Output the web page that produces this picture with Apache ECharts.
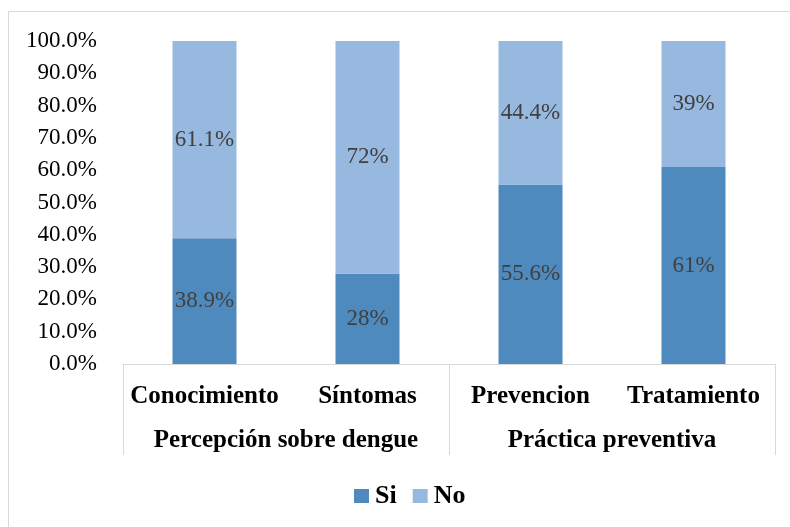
<!DOCTYPE html>
<html><head><meta charset="utf-8">
<script src="https://cdn.jsdelivr.net/npm/echarts@6/dist/echarts.min.js"></script>
<style>html,body{margin:0;padding:0;background:#fff}#c{width:790px;height:527px}</style>
</head><body><div id="c"></div>
<script>
const categories = ['Conocimiento', 'Síntomas', 'Prevencion', 'Tratamiento'];
const groups = ['Percepción sobre dengue', 'Práctica preventiva'];
const siValues = [38.9, 28, 55.6, 61];
const noValues = [61.1, 72, 44.4, 39];
const yTicks = [0, 10, 20, 30, 40, 50, 60, 70, 80, 90, 100];

const serif = '"Liberation Serif", "DejaVu Serif", serif';
const chart = echarts.init(document.getElementById('c'));
chart.setOption({
  animation: false,
  backgroundColor: '#fff',
  graphic: [{
    type: 'rect', shape: {x: 8.5, y: 11.5, width: 820, height: 600},
    style: {fill: 'none', stroke: '#d9d9d9', lineWidth: 1}, silent: true, z: -1
  }],
  grid: {left: 123, right: 15, top: 41, bottom: 163, containLabel: false},
  legend: {
    data: ['Si', 'No'], left: 349, top: 478,
    itemWidth: 15, itemHeight: 14, itemGap: 16, icon: 'rect',
    textStyle: {fontFamily: serif, fontWeight: 'bold', fontSize: 26, color: '#000', padding: [0, 0, 0, 1]}
  },
  xAxis: [{
    type: 'category', data: categories, position: 'bottom',
    axisLine: {show: true, lineStyle: {color: '#d9d9d9', width: 1}},
    axisTick: {show: false},
    axisLabel: {margin: 20, fontFamily: serif, fontWeight: 'bold', fontSize: 25, color: '#000', interval: 0}
  }, {
    type: 'category', data: groups, position: 'bottom',
    axisLine: {show: false},
    axisTick: {show: true, length: 91, lineStyle: {color: '#d9d9d9', width: 1}},
    axisLabel: {margin: 64, fontFamily: serif, fontWeight: 'bold', fontSize: 25, color: '#000', interval: 0}
  }],
  yAxis: {
    type: 'value', min: 0, max: 100, interval: 10,
    axisLine: {show: false}, axisTick: {show: false}, splitLine: {show: false},
    axisLabel: {margin: 26, fontFamily: serif, fontSize: 23, color: '#000',
      formatter: v => yTicks.includes(v) ? v.toFixed(1) + '%' : ''}
  },
  series: [{
    name: 'Si', type: 'bar', stack: 't', data: siValues, barWidth: 64,
    itemStyle: {color: '#4f8abe'},
    label: {show: true, position: 'inside', formatter: p => p.value + '%',
      fontFamily: serif, fontSize: 23, color: '#404040'}
  }, {
    name: 'No', type: 'bar', stack: 't', data: noValues, barWidth: 64,
    itemStyle: {color: '#97b9e0'},
    label: {show: true, position: 'inside', formatter: p => p.value + '%',
      fontFamily: serif, fontSize: 23, color: '#404040'}
  }]
});
</script></body></html>
